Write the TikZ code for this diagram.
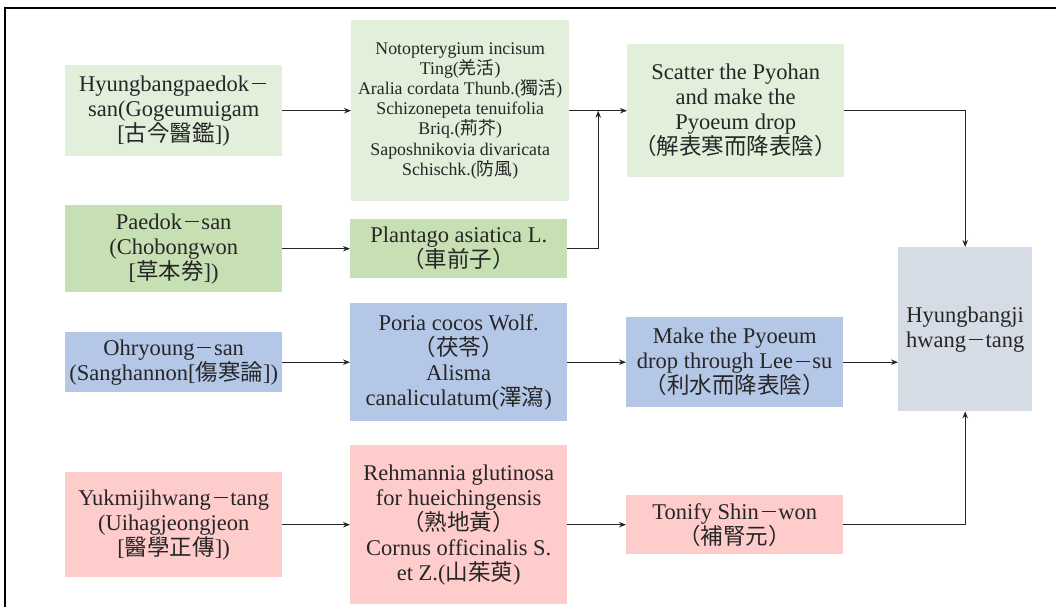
\documentclass[tikz,border=0pt]{standalone}
\usepackage{fontspec}
\setmainfont{Liberation Serif}
\newfontfamily\cjk{Noto Sans CJK KR}
\usetikzlibrary{arrows.meta,calc}
\newcommand\cj[1]{{\cjk #1}}
\newcommand\dsh{\kern0.12em\rule[0.3em]{0.62em}{0.055em}\kern0.12em}
\definecolor{lgreen}{HTML}{E2EFDA}
\definecolor{mgreen}{HTML}{C6E0B4}
\definecolor{lblue}{HTML}{B4C7E7}
\definecolor{lgray}{HTML}{D6DCE5}
\definecolor{lpink}{HTML}{FFCCCC}
\definecolor{txt}{HTML}{262626}
\begin{document}
\begin{tikzpicture}[x=1pt,y=-1pt,
  box/.style={draw=none, anchor=north west, inner sep=0pt, align=center,
    font=\fontsize{22.5}{25}\selectfont, text=txt},
  smallbox/.style={box, font=\fontsize{17.8}{20.2}\selectfont},
  arr/.style={-{Stealth[length=7pt,width=5.5pt]}, line width=0.9pt, draw=txt}]
\useasboundingbox (0,0) rectangle (1056,607);
\draw[line width=1.5pt] (5,607) -- (5,8) -- (1056,8);

% column A
\node[box, fill=lgreen, minimum width=217pt, minimum height=91pt] (A1) at (65,65)
  {Hyungbangpaedok\dsh\\san(Gogeumuigam\\{[}\cj{古今醫鑑}])};
\node[box, fill=mgreen, minimum width=217pt, minimum height=87pt] (A2) at (65,205)
  {Paedok\dsh san\\(Chobongwon\\{[}\cj{草本券}])};
\node[box, fill=lblue, minimum width=217pt, minimum height=60pt] (A3) at (65,332)
  {Ohryoung\dsh san\\(Sanghannon[\cj{傷寒論}])};
\node[box, fill=lpink, minimum width=217pt, minimum height=105pt] (A4) at (65,472)
  {Yukmijihwang\dsh tang\\(Uihagjeongjeon\\{[}\cj{醫學正傳}])};

% column B
\node[smallbox, fill=lgreen, minimum width=218pt, minimum height=181pt] (B1) at (351,20)
  {Notopterygium incisum\\Ting(\cj{羌活})\\Aralia cordata Thunb.(\cj{獨活})\\Schizonepeta tenuifolia\\Briq.(\cj{荊芥})\\Saposhnikovia divaricata\\Schischk.(\cj{防風})};
\node[box, fill=mgreen, minimum width=217pt, minimum height=59pt] (B2) at (350,219)
  {Plantago asiatica L.\\\cj{（車前子）}};
\node[box, fill=lblue, minimum width=217pt, minimum height=118pt] (B3) at (350,303)
  {Poria cocos Wolf.\\\cj{（茯苓）}\\Alisma\\canaliculatum(\cj{澤瀉})};
\node[box, fill=lpink, minimum width=217pt, minimum height=159pt] (B4) at (350,445)
  {Rehmannia glutinosa\\for hueichingensis\\\cj{（熟地黃）}\\Cornus officinalis S.\\et Z.(\cj{山茱萸})};

% column C
\node[box, fill=lgreen, minimum width=217pt, minimum height=133pt] (C1) at (627,44)
  {Scatter the Pyohan\\and make the\\Pyoeum drop\\\cj{（解表寒而降表陰）}};
\node[box, fill=lblue, minimum width=217pt, minimum height=90pt] (C3) at (626,317)
  {Make the Pyoeum\\drop through Lee\dsh su\\\cj{（利水而降表陰）}};
\node[box, fill=lpink, minimum width=217pt, minimum height=59pt] (C4) at (626,495)
  {Tonify Shin\dsh won\\\cj{（補腎元）}};

% result
\node[box, fill=lgray, minimum width=134pt, minimum height=164pt] (D) at (898,247)
  {Hyungbangji\\hwang\dsh tang};

\coordinate (J) at ($(B1.east)!0.5!(C1.west)$);

% connectors
\draw[arr] (A1.east) -- (A1.east -| B1.west);
\draw[arr] (B1.east) -- (C1.west);
\draw[arr] (A2.east) -- (B2.west);
\draw[arr] (B2.east) -| (J);
\draw[arr] (C1.east) -| (D.north);
\draw[arr] (A3.east) -- (A3.east -| B3.west);
\draw[arr] (B3.east) -- (B3.east -| C3.west);
\draw[arr] (C3.east) -- (C3.east -| D.west);
\draw[arr] (A4.east) -- (A4.east -| B4.west);
\draw[arr] (B4.east) -- (B4.east -| C4.west);
\draw[arr] (C4.east) -| (D.south);
\end{tikzpicture}
\end{document}
